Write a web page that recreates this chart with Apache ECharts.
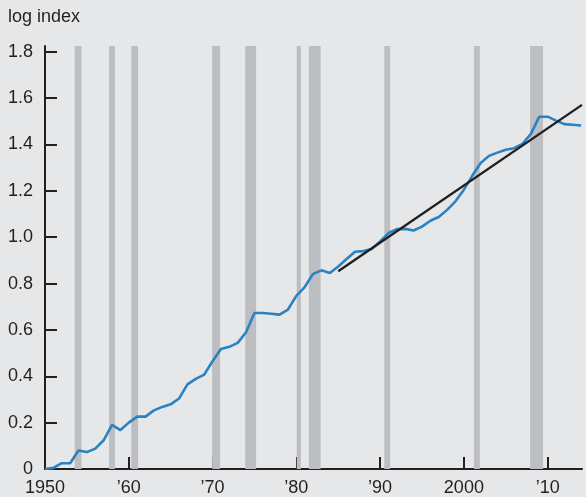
<!DOCTYPE html>
<html>
<head>
<meta charset="utf-8">
<script src="https://cdn.jsdelivr.net/npm/echarts@6/dist/echarts.min.js"></script>
<style>
html,body{margin:0;padding:0;background:#e6e7e9;}
#c{width:586px;height:497px;}
</style>
</head>
<body>
<div id="c"></div>
<script>
const years = [];
for (let y = 1950; y <= 2014; y++) years.push(y);
const logIndex = [
  0.000, 0.005, 0.025, 0.025, 0.080, 0.073, 0.088, 0.124, 0.190, 0.168,
  0.200, 0.226, 0.226, 0.253, 0.268, 0.279, 0.304, 0.365, 0.389, 0.407,
  0.465, 0.518, 0.527, 0.544, 0.590, 0.673, 0.673, 0.670, 0.666, 0.688,
  0.747, 0.785, 0.842, 0.857, 0.846, 0.874, 0.906, 0.937, 0.940, 0.949,
  0.982, 1.018, 1.035, 1.036, 1.029, 1.046, 1.071, 1.087, 1.118, 1.155,
  1.205, 1.265, 1.320, 1.351, 1.365, 1.377, 1.384, 1.403, 1.446, 1.520,
  1.520, 1.503, 1.488, 1.485, 1.482
];
const trendYears = [1985, 2014.1];
const trendValues = [0.853, 1.571];
const recessions = [
  [1953.55, 1954.35], [1957.65, 1958.35], [1960.3, 1961.1], [1969.95, 1970.9],
  [1973.9, 1975.2], [1980.05, 1980.55], [1981.5, 1982.9], [1990.5, 1991.2],
  [2001.2, 2001.9], [2007.9, 2009.45]
];
const xTickValues = [1960, 1970, 1980, 1990, 2000, 2010];
const xLabelValues = [1950, 1960, 1970, 1980, 1990, 2000, 2010];
const yTickValues = [0, 0.2, 0.4, 0.6, 0.8, 1.0, 1.2, 1.4, 1.6, 1.8];
const yAxisTitle = 'log index';

const FONT = '"Liberation Sans", Arial, Helvetica, sans-serif';
const INK = '#231f20';

const chart = echarts.init(document.getElementById('c'), null, {renderer: 'canvas'});
chart.setOption({
  backgroundColor: '#e6e7e9',
  animation: false,
  graphic: [{
    type: 'text', left: 8, top: 8,
    style: {text: yAxisTitle, fill: INK, font: '18px ' + FONT}
  }],
  grid: {left: 45, right: 4, top: 46, bottom: 27.5, containLabel: false},
  xAxis: {
    type: 'value', min: 1950, max: 2014.1,
    axisLine: {show: true, onZero: false, lineStyle: {color: INK, width: 2}},
    axisTick: {show: true, inside: true, length: 12, customValues: xTickValues,
      lineStyle: {color: INK, width: 2}},
    axisLabel: {customValues: xLabelValues, margin: 10, color: INK, fontSize: 18, fontFamily: FONT,
      formatter: v => (v === 1950 || v === 2000) ? String(v) : '\u2019' + String(v).slice(2)},
    splitLine: {show: false}
  },
  yAxis: {
    type: 'value', min: 0, max: 1.825,
    axisLine: {show: true, lineStyle: {color: INK, width: 2}},
    axisTick: {show: true, inside: true, length: 12, customValues: yTickValues,
      lineStyle: {color: INK, width: 2}},
    axisLabel: {customValues: yTickValues, margin: 12, color: INK, fontSize: 18, fontFamily: FONT,
      formatter: v => v === 0 ? '0' : v.toFixed(1)},
    splitLine: {show: false}
  },
  series: [
    {
      type: 'line', z: 1, silent: true, symbol: 'none', data: [],
      markArea: {silent: true, itemStyle: {color: '#bdbec2'},
        data: recessions.map(r => [{xAxis: r[0]}, {xAxis: r[1]}])}
    },
    {
      type: 'line', z: 3, symbol: 'none', smooth: false,
      lineStyle: {color: '#2b82bf', width: 2.6},
      data: years.map((y, i) => [y, logIndex[i]])
    },
    {
      type: 'line', z: 4, symbol: 'none',
      lineStyle: {color: INK, width: 2.4},
      data: trendYears.map((y, i) => [y, trendValues[i]])
    }
  ]
});
</script>
</body>
</html>
